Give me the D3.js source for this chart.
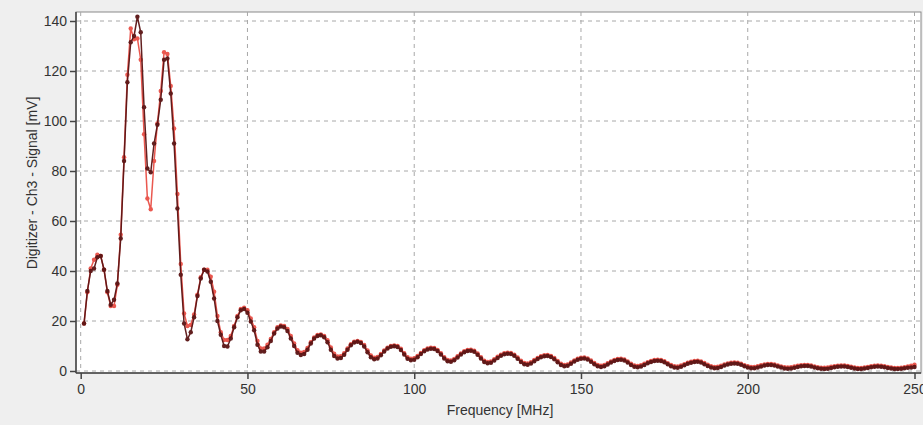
<!DOCTYPE html>
<html>
<head>
<meta charset="utf-8">
<script src="https://cdn.jsdelivr.net/npm/d3@7"></script>
<style>
  html, body { margin: 0; padding: 0; background: #efefef; }
  svg { display: block; font-family: "Liberation Sans", Arial, sans-serif; }
</style>
</head>
<body>
<div id="chart"></div>
<script>
// frequency axis (MHz), one point per MHz
var freqStart = 1, freqCount = 250;

// dark trace (Ch3 signal, mV)
var darkValues = [
  19, 32, 40, 41, 45.5, 46, 40.5, 32, 26.5, 28.5,
  35, 53, 84, 115.5, 131.5, 134, 141.7, 135.5, 105.5, 81,
  79.5, 91, 98.5, 108.5, 124.5, 125, 111, 91, 65, 38.5,
  19, 12.7, 15.5, 21.5, 30, 37, 40.5, 39.8, 35.7, 29,
  20, 14.5, 10, 9.8, 13, 17.5, 21.5, 24.3, 24.8, 23.3,
  19.8, 16.3, 10.5, 7.8, 7.8, 9.5, 12, 15, 17, 17.8,
  17.5, 16, 13, 10, 7.3, 6.4, 6.8, 8.5, 11, 13,
  14, 14.3, 13.5, 11.5, 8.5, 6, 5, 5.2, 6.5, 8.5,
  10.3, 11.4, 11.7, 11.2, 9.8, 7.5, 5.5, 4.7, 5, 6.3,
  7.8, 9, 9.7, 9.9, 9.6, 8.4, 6.6, 4.9, 4.3, 4.5,
  5.5, 6.8, 7.9, 8.6, 8.9, 8.8, 8, 6.6, 5, 3.9,
  3.7, 4.3, 5.4, 6.6, 7.5, 8, 8.1, 7.7, 6.5, 5,
  3.6, 3.1, 3.3, 4.2, 5.2, 6.1, 6.7, 6.9, 6.8, 6.1,
  4.9, 3.6, 2.7, 2.5, 3, 3.9, 4.8, 5.5, 5.9, 6,
  5.6, 4.7, 3.5, 2.4, 1.9, 2.1, 2.9, 3.8, 4.5, 4.9,
  5, 4.6, 3.7, 2.7, 1.9, 1.6, 1.9, 2.6, 3.4, 4,
  4.4, 4.5, 4.2, 3.4, 2.4, 1.7, 1.5, 1.8, 2.4, 3.1,
  3.6, 4, 4.1, 4, 3.5, 2.7, 1.9, 1.4, 1.3, 1.7,
  2.3, 2.9, 3.3, 3.6, 3.7, 3.4, 2.7, 2, 1.4, 1.1,
  1.2, 1.6, 2.2, 2.6, 2.9, 3, 2.9, 2.5, 1.9, 1.4,
  1.1, 1.1, 1.4, 1.8, 2.2, 2.4, 2.4, 2.2, 1.8, 1.4,
  1, 0.9, 1, 1.3, 1.6, 1.9, 2, 2, 1.8, 1.4,
  1.1, 0.9, 0.8, 0.9, 1.2, 1.5, 1.7, 1.8, 1.8, 1.6,
  1.3, 1, 0.8, 0.8, 1, 1.2, 1.5, 1.7, 1.8, 1.7,
  1.5, 1.2, 1, 0.8, 0.8, 0.9, 1.1, 1.3, 1.4, 1.6
];

// red trace (Ch3 signal, mV)
var redValues = [
  19, 31.5, 41, 44.5, 46.5, 46, 40.5, 31.5, 26, 26,
  34.5, 54.5, 85.5, 118.5, 137, 132.7, 133, 124.5, 94.7, 69,
  64.7, 84, 99, 112, 127.5, 126.8, 114, 97, 70.8, 42.8,
  23, 18, 18.4, 22.6, 30.5, 37.5, 40.5, 40.5, 37.7, 31.7,
  22, 15.5, 12.4, 12.4, 14, 18, 22, 24.8, 25.3, 24.3,
  21, 17.5, 12, 9, 9, 10.5, 12.8, 15.5, 17.5, 18.2,
  18, 16.8, 14, 11, 8.3, 7.3, 7.6, 9.2, 11.5, 13.4,
  14.4, 14.6, 14, 12.3, 9.4, 6.9, 5.8, 5.9, 7.1, 9,
  10.7, 11.7, 12, 11.6, 10.4, 8.2, 6.2, 5.3, 5.6, 6.8,
  8.2, 9.3, 10, 10.2, 10, 8.9, 7.1, 5.5, 4.9, 5.1,
  6, 7.2, 8.3, 9, 9.3, 9.2, 8.4, 7.1, 5.5, 4.4,
  4.2, 4.8, 5.9, 7, 7.9, 8.4, 8.5, 8.1, 7, 5.5,
  4.1, 3.6, 3.8, 4.7, 5.7, 6.5, 7.1, 7.3, 7.2, 6.5,
  5.4, 4.1, 3.2, 3, 3.5, 4.4, 5.2, 5.9, 6.3, 6.4,
  6, 5.2, 4, 2.9, 2.4, 2.6, 3.4, 4.2, 4.9, 5.3,
  5.4, 5, 4.2, 3.2, 2.4, 2.1, 2.4, 3.1, 3.8, 4.4,
  4.8, 4.9, 4.6, 3.8, 2.9, 2.2, 2, 2.3, 2.9, 3.5,
  4, 4.4, 4.5, 4.4, 3.9, 3.1, 2.4, 1.9, 1.8, 2.2,
  2.7, 3.3, 3.7, 4, 4.1, 3.8, 3.2, 2.5, 1.9, 1.6,
  1.7, 2.1, 2.6, 3, 3.3, 3.4, 3.3, 2.9, 2.3, 1.9,
  1.6, 1.6, 1.9, 2.3, 2.6, 2.8, 2.8, 2.6, 2.2, 1.8,
  1.5, 1.4, 1.5, 1.8, 2.1, 2.3, 2.4, 2.4, 2.2, 1.8,
  1.5, 1.3, 1.3, 1.4, 1.7, 1.9, 2.1, 2.2, 2.2, 2,
  1.7, 1.4, 1.2, 1.2, 1.4, 1.6, 1.9, 2.1, 2.2, 2.1,
  1.9, 1.6, 1.4, 1.2, 1.2, 1.3, 1.5, 1.8, 2.1, 2.5
];

var xTicks = [0, 50, 100, 150, 200, 250];
var yTicks = [0, 20, 40, 60, 80, 100, 120, 140];

var W = 923, H = 425;
var frame = { left: 76, top: 12, right: 921, bottom: 373 };

var svg = d3.select('#chart').append('svg')
    .attr('width', W)
    .attr('height', H);

svg.append('rect').attr('width', W).attr('height', H).attr('fill', '#efefef');

// plot area
svg.append('rect')
    .attr('x', frame.left).attr('y', frame.top)
    .attr('width', frame.right - frame.left)
    .attr('height', frame.bottom - frame.top)
    .attr('fill', '#ffffff')
    .attr('stroke', '#8a8a8a')
    .attr('stroke-width', 1);

var x = d3.scaleLinear().domain([0, 250]).range([80.7, 914.5]);
var y = d3.scaleLinear().domain([0, 140]).range([371, 21]);

// gridlines
svg.append('g').attr('class', 'grid')
    .selectAll('line.h').data(yTicks).enter().append('line')
    .attr('x1', frame.left).attr('x2', frame.right)
    .attr('y1', (d) => y(d)).attr('y2', (d) => y(d))
    .attr('stroke', '#a8a8a8').attr('stroke-dasharray', '4,4').attr('stroke-width', 1);

svg.append('g').attr('class', 'grid')
    .selectAll('line.v').data(xTicks).enter().append('line')
    .attr('y1', frame.top).attr('y2', frame.bottom)
    .attr('x1', (d) => x(d)).attr('x2', (d) => x(d))
    .attr('stroke', '#a8a8a8').attr('stroke-dasharray', '4,4').attr('stroke-width', 1);

// axes
var yAxis = svg.append('g')
    .attr('transform', 'translate(' + frame.left + ',0)')
    .call(d3.axisLeft(y).tickValues(yTicks).tickSize(6).tickPadding(3).tickSizeOuter(0));

var xAxis = svg.append('g')
    .attr('transform', 'translate(0,' + frame.bottom + ')')
    .call(d3.axisBottom(x).tickValues(xTicks).tickSize(6).tickPadding(5).tickSizeOuter(0));

[yAxis, xAxis].forEach(function(a) {
    a.select('.domain').remove();
    a.selectAll('line').attr('stroke', '#444').attr('stroke-width', 1.5);
    a.selectAll('text').attr('font-size', '14px').attr('fill', '#333')
        .attr('font-family', '"Liberation Sans", Arial, sans-serif');
});

// axis lines
svg.append('line')
    .attr('x1', frame.left).attr('x2', frame.left)
    .attr('y1', frame.top).attr('y2', frame.bottom)
    .attr('stroke', '#444').attr('stroke-width', 1.5);
svg.append('line')
    .attr('x1', frame.left).attr('x2', frame.right)
    .attr('y1', frame.bottom).attr('y2', frame.bottom)
    .attr('stroke', '#444').attr('stroke-width', 1.5);

// axis titles
svg.append('text')
    .attr('transform', 'translate(37,' + 183 + ') rotate(-90)')
    .attr('text-anchor', 'middle')
    .attr('font-size', '14px').attr('fill', '#333')
    .text('Digitizer - Ch3 - Signal [mV]');

svg.append('text')
    .attr('x', 500).attr('y', 415)
    .attr('text-anchor', 'middle')
    .attr('font-size', '14px').attr('fill', '#333')
    .text('Frequency [MHz]');

// series
function toPoints(vals) {
    return vals.map(function(v, i) { return { f: freqStart + i, v: v }; });
}

var series = [
    { name: 'red', data: toPoints(redValues), color: '#e8463d', opacity: 0.9 },
    { name: 'dark', data: toPoints(darkValues), color: '#5a1414', opacity: 0.95 }
];

var line = d3.line().x((d) => x(d.f)).y((d) => y(d.v));

var plot = svg.append('g');
series.forEach(function(s) {
    var g = plot.append('g').attr('class', 'series-' + s.name).attr('opacity', s.opacity);
    g.append('path')
        .datum(s.data)
        .attr('d', line)
        .attr('fill', 'none')
        .attr('stroke', s.color)
        .attr('stroke-width', 1.5);
    g.selectAll('circle')
        .data(s.data)
        .enter().append('circle')
        .attr('cx', (d) => x(d.f))
        .attr('cy', (d) => y(d.v))
        .attr('r', 2.2)
        .attr('fill', s.color);
});
</script>
</body>
</html>
